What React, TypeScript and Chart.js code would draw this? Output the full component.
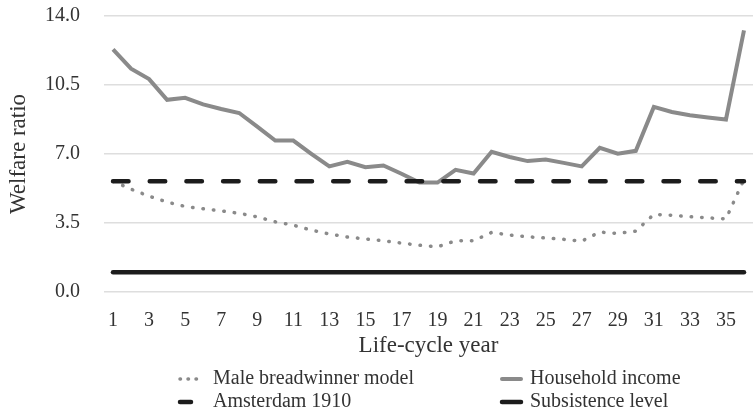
import { useEffect, useRef } from "react";
import { Chart, registerables } from "chart.js";

Chart.register(...registerables);

const years = [
  "1", "2", "3", "4", "5", "6", "7", "8", "9", "10", "11", "12",
  "13", "14", "15", "16", "17", "18", "19", "20", "21", "22", "23", "24",
  "25", "26", "27", "28", "29", "30", "31", "32", "33", "34", "35", "36",
];

const householdIncome = [
  12.31, 11.33, 10.8, 9.75, 9.85, 9.52, 9.28, 9.08, 8.39, 7.68, 7.68, 7.01,
  6.37, 6.6, 6.33, 6.42, 6.0, 5.55, 5.55, 6.2, 6.01, 7.11, 6.85, 6.64,
  6.72, 6.55, 6.37, 7.31, 7.02, 7.16, 9.39, 9.13, 8.97, 8.85, 8.75, 13.27,
];

const maleBreadwinner = [
  5.62, 5.22, 4.86, 4.56, 4.34, 4.22, 4.12, 3.99, 3.81, 3.56, 3.39, 3.14,
  2.94, 2.79, 2.69, 2.6, 2.48, 2.37, 2.29, 2.6, 2.6, 3.02, 2.89, 2.8,
  2.74, 2.67, 2.58, 3.04, 2.97, 3.09, 3.94, 3.89, 3.82, 3.76, 3.71, 5.71,
];

const amsterdam1910Level = 5.62;
const subsistenceLevel = 1.0;

const yTicks = [0, 3.5, 7, 10.5, 14];

const FONT = "'Liberation Serif', 'Times New Roman', serif";
const GREY = "#8a8a8a";
const BLACK = "#1c1c1c";
const TEXT = "#333333";

const legendItems = [
  { label: "Male breadwinner model", color: GREY, width: 3.5, dash: [0.5, 7.5], col: 0, row: 0 },
  { label: "Household income", color: GREY, width: 4, dash: [], col: 1, row: 0 },
  { label: "Amsterdam 1910", color: BLACK, width: 4.5, dash: [], col: 0, row: 1, short: true },
  { label: "Subsistence level", color: BLACK, width: 4.5, dash: [], col: 1, row: 1 },
];

const legendPlugin = {
  id: "gridLegend",
  afterDraw(chart: any) {
    const ctx = chart.ctx as CanvasRenderingContext2D;
    const area = chart.chartArea;
    const colSymbolX = [area.left + 74, area.left + 396];
    const colTextX = [area.left + 109, area.left + 426];
    const rowY = [area.bottom + 87, area.bottom + 110];
    ctx.save();
    legendItems.forEach((it) => {
      const x0 = colSymbolX[it.col];
      const y = rowY[it.row];
      ctx.beginPath();
      ctx.strokeStyle = it.color;
      ctx.lineWidth = it.width;
      ctx.lineCap = "round";
      ctx.setLineDash(it.dash);
      const len = it.short ? 11 : it.col === 0 ? 17 : 19;
      ctx.moveTo(x0 + 2, y);
      ctx.lineTo(x0 + 2 + len, y);
      ctx.stroke();
      ctx.setLineDash([]);
      ctx.fillStyle = TEXT;
      ctx.font = `20px ${FONT}`;
      ctx.textBaseline = "middle";
      ctx.textAlign = "left";
      ctx.fillText(it.label, colTextX[it.col], y);
    });
    ctx.restore();
  },
};

export default function App() {
  const ref = useRef<HTMLCanvasElement | null>(null);

  useEffect(() => {
    if (!ref.current) return;
    const chart = new Chart(ref.current, {
      type: "line",
      data: {
        labels: years,
        datasets: [
          {
            label: "Subsistence level",
            data: years.map(() => subsistenceLevel),
            borderColor: BLACK,
            borderWidth: 4.5,
            borderCapStyle: "round",
            pointRadius: 0,
            tension: 0,
          },
          {
            label: "Amsterdam 1910",
            data: years.map(() => amsterdam1910Level),
            borderColor: BLACK,
            borderWidth: 4.5,
            borderDash: [15.5, 21.2],
            borderCapStyle: "round",
            pointRadius: 0,
            tension: 0,
          },
          {
            label: "Male breadwinner model",
            data: maleBreadwinner,
            borderColor: GREY,
            borderWidth: 3.5,
            borderDash: [0.5, 10],
            borderCapStyle: "round",
            pointRadius: 0,
            tension: 0,
          },
          {
            label: "Household income",
            data: householdIncome,
            borderColor: GREY,
            borderWidth: 4,
            borderJoinStyle: "miter",
            pointRadius: 0,
            tension: 0,
          },
        ],
      },
      options: {
        responsive: false,
        animation: false,
        layout: { padding: { top: 16, right: -4, bottom: 54, left: 0 } },
        plugins: {
          legend: { display: false },
          tooltip: { enabled: false },
        },
        scales: {
          x: {
            type: "category",
            offset: true,
            grid: { display: false },
            border: { display: false },
            ticks: {
              autoSkip: false,
              maxRotation: 0,
              padding: 9,
              color: TEXT,
              font: { family: FONT, size: 20 },
              callback: (_v: any, i: number) => (i % 2 === 0 ? years[i] : ""),
            },
            title: {
              display: true,
              text: "Life-cycle year",
              color: TEXT,
              font: { family: FONT, size: 23 },
              padding: { top: 0, bottom: 2 },
            },
            afterFit: (scale: any) => {
              scale.height = 70;
              scale.paddingLeft = 0;
              scale.paddingRight = 0;
            },
          },
          y: {
            min: 0,
            max: 14,
            afterBuildTicks: (scale: any) => {
              scale.ticks = yTicks.map((v) => ({ value: v }));
            },
            grid: { color: "#dedede", lineWidth: 1.6, drawTicks: false },
            border: { display: false },
            ticks: {
              padding: 24,
              color: TEXT,
              font: { family: FONT, size: 20 },
              callback: (v: any) => Number(v).toFixed(1),
            },
            title: {
              display: true,
              text: "Welfare ratio",
              color: TEXT,
              font: { family: FONT, size: 23 },
              padding: { top: 5, bottom: 0 },
            },
            afterFit: (scale: any) => {
              scale.width = 104;
              scale.paddingTop = 0;
              scale.paddingBottom = 0;
            },
          },
        },
      },
      plugins: [legendPlugin],
    });
    return () => chart.destroy();
  }, []);

  return (
    <div style={{ position: "absolute", left: 0, top: 0, width: 753, height: 416, background: "#fff" }}>
      <canvas ref={ref} width={753} height={416} style={{ display: "block" }} />
    </div>
  );
}
